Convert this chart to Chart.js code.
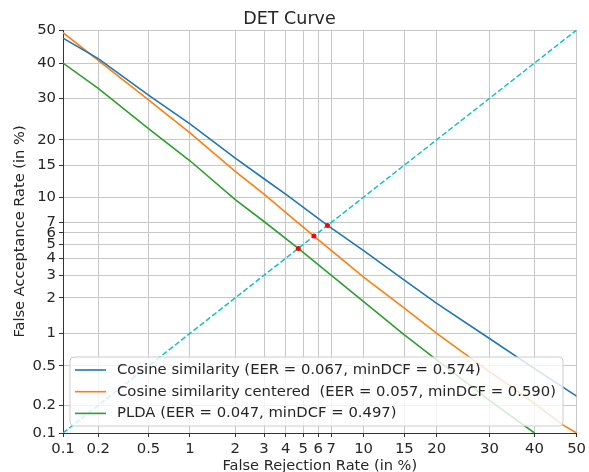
<!DOCTYPE html>
<html lang="en">
<head>
<meta charset="UTF-8">
<title>DET Curve</title>
<script src="https://cdn.jsdelivr.net/npm/chart.js"></script>
<style>
  html, body { margin: 0; padding: 0; background: #fff; }
  #wrap { width: 589px; height: 472px; }
</style>
</head>
<body>
<div id="wrap"><canvas id="det"></canvas></div>
<script>
// Tick positions (in %) shared by both probit axes
const tickPercents = [0.1, 0.2, 0.5, 1, 2, 3, 4, 5, 6, 7, 10, 15, 20, 30, 40, 50];
const tickLabels = ['0.1', '0.2', '0.5', '1', '2', '3', '4', '5', '6', '7', '10', '15', '20', '30', '40', '50'];

const seriesLabels = [
  'Cosine similarity (EER = 0.067, minDCF = 0.574)',
  'Cosine similarity centered  (EER = 0.057, minDCF = 0.590)',
  'PLDA (EER = 0.047, minDCF = 0.497)'
];
const seriesColors = ['#1f77b4', '#ff7f0e', '#2ca02c'];

// False rejection / false acceptance rates (in %)
const frrCosine = [0.1, 0.2, 0.5, 1, 2, 3, 4, 6.7, 10, 15, 20, 30, 40, 50];
const farCosine = [47.5, 41.3, 30.9, 23.6, 16.3, 12.7, 10.4, 6.7, 4.53, 2.76, 1.8, 0.9, 0.47, 0.25];

const frrCentered = [0.1, 0.2, 0.5, 1, 2, 3, 4, 5.7, 10, 15, 20, 30, 40, 46.7, 50];
const farCentered = [49.2, 40.8, 29.6, 21.5, 13.9, 10.4, 8.1, 5.7, 2.9, 1.65, 1.0, 0.44, 0.21, 0.123, 0.1];

const frrPlda = [0.1, 0.2, 0.5, 1, 2, 3, 4.7, 10, 15, 20, 30, 40];
const farPlda = [40, 32.7, 22.5, 15.8, 9.67, 7.1, 4.7, 1.86, 0.97, 0.57, 0.225, 0.1];

const eerFrr = [6.7, 5.7, 4.7];
const eerFar = [6.7, 5.7, 4.7];

const diagonal = [0.1, 50];

// inverse of the standard normal CDF (Acklam)
function probit(p) {
  const a = [-3.969683028665376e+01, 2.209460984245205e+02, -2.759285104469687e+02, 1.383577518672690e+02, -3.066479806614716e+01, 2.506628277459239e+00];
  const b = [-5.447609879822406e+01, 1.615858368580409e+02, -1.556989798598866e+02, 6.680131188771972e+01, -1.328068155288572e+01];
  const c = [-7.784894002430293e-03, -3.223964580411365e-01, -2.400758277161838e+00, -2.549732539343734e+00, 4.374664141464968e+00, 2.938163982698783e+00];
  const d = [7.784695709041462e-03, 3.224671290700398e-01, 2.445134137142996e+00, 3.754408661907416e+00];
  const pl = 0.02425;
  if (p < pl) {
    const q = Math.sqrt(-2 * Math.log(p));
    return (((((c[0] * q + c[1]) * q + c[2]) * q + c[3]) * q + c[4]) * q + c[5]) /
      ((((d[0] * q + d[1]) * q + d[2]) * q + d[3]) * q + 1);
  }
  if (p > 1 - pl) {
    const q = Math.sqrt(-2 * Math.log(1 - p));
    return -(((((c[0] * q + c[1]) * q + c[2]) * q + c[3]) * q + c[4]) * q + c[5]) /
      ((((d[0] * q + d[1]) * q + d[2]) * q + d[3]) * q + 1);
  }
  const q = p - 0.5, r = q * q;
  return (((((a[0] * r + a[1]) * r + a[2]) * r + a[3]) * r + a[4]) * r + a[5]) * q /
    (((((b[0] * r + b[1]) * r + b[2]) * r + b[3]) * r + b[4]) * r + 1);
}

const toPoints = (xs, ys) => xs.map((x, i) => ({ x: probit(x / 100), y: probit(ys[i] / 100) }));

const FONT = 'DejaVu Sans';

const curve = (idx, xs, ys) => ({
  label: seriesLabels[idx],
  data: toPoints(xs, ys),
  borderColor: seriesColors[idx],
  backgroundColor: seriesColors[idx],
  borderWidth: 1.6,
  pointRadius: 0,
  tension: 0,
  order: 2
});

// legend box drawn inside the plot, lower left
const insideLegend = {
  id: 'insideLegend',
  afterDraw(chart) {
    const ctx = chart.ctx;
    const area = chart.chartArea;
    const x = area.left + 7, w = 493, h = 69;
    const y = area.bottom - 7 - h;
    ctx.save();
    ctx.beginPath();
    ctx.roundRect(x, y, w, h, 4);
    ctx.fillStyle = 'rgba(255,255,255,0.8)';
    ctx.fill();
    ctx.strokeStyle = '#cccccc';
    ctx.lineWidth = 1;
    ctx.stroke();
    ctx.font = '14.8px "' + FONT + '"';
    ctx.textBaseline = 'middle';
    seriesLabels.forEach((label, i) => {
      const cy = y + 13 + i * 21.7;
      ctx.strokeStyle = seriesColors[i];
      ctx.lineWidth = 1.6;
      ctx.beginPath();
      ctx.moveTo(x + 5, cy);
      ctx.lineTo(x + 36, cy);
      ctx.stroke();
      ctx.fillStyle = '#262626';
      ctx.fillText(label, x + 47, cy);
    });
    ctx.restore();
  }
};

const probitAxis = (title, titlePadding, extra) => Object.assign({
  type: 'linear',
  min: probit(0.001),
  max: probit(0.5),
  afterBuildTicks: (s) => { s.ticks = tickPercents.map(p => ({ value: probit(p / 100) })); },
  ticks: {
    autoSkip: false,
    maxRotation: 0,
    color: '#262626',
    padding: 3,
    font: { family: FONT, size: 14.8 },
    callback: (v, i) => tickLabels[i]
  },
  grid: { color: '#c8c8c8', lineWidth: 1, tickLength: 4, tickColor: '#333' },
  border: { color: '#333', width: 1 },
  title: {
    display: true,
    text: title,
    color: '#262626',
    font: { family: FONT, size: 14.6, lineHeight: 1 },
    padding: titlePadding
  }
}, extra);

new Chart(document.getElementById('det'), {
  type: 'line',
  data: {
    datasets: [
      curve(0, frrCosine, farCosine),
      curve(1, frrCentered, farCentered),
      curve(2, frrPlda, farPlda),
      {
        label: 'diagonal',
        data: toPoints(diagonal, diagonal),
        borderColor: '#17c0c8',
        borderWidth: 1.5,
        borderDash: [5.5, 2.4],
        pointRadius: 0,
        order: 3
      },
      {
        label: 'EER',
        data: toPoints(eerFrr, eerFar),
        showLine: false,
        pointRadius: 2.5,
        pointBorderWidth: 0,
        pointBackgroundColor: '#ff0000',
        order: 1
      }
    ]
  },
  options: {
    responsive: true,
    maintainAspectRatio: false,
    animation: false,
    devicePixelRatio: 1,
    layout: { padding: { left: 0, right: 10, top: 0, bottom: 0 } },
    plugins: {
      legend: { display: false },
      tooltip: { enabled: false },
      title: {
        display: true,
        text: 'DET Curve',
        color: '#262626',
        font: { family: FONT, size: 17.5, weight: 'normal', lineHeight: 1.2 },
        padding: { top: 8.5, bottom: 0.5 }
      }
    },
    scales: {
      x: probitAxis('False Rejection Rate (in %)', { top: 0, bottom: -1.5 }, { afterFit: (s) => { s.height = 39; } }),
      y: probitAxis('False Acceptance Rate (in %)', { top: 12.5, bottom: 0 }, { afterFit: (s) => { s.width = 63; } })
    }
  },
  plugins: [insideLegend]
});
</script>
</body>
</html>
